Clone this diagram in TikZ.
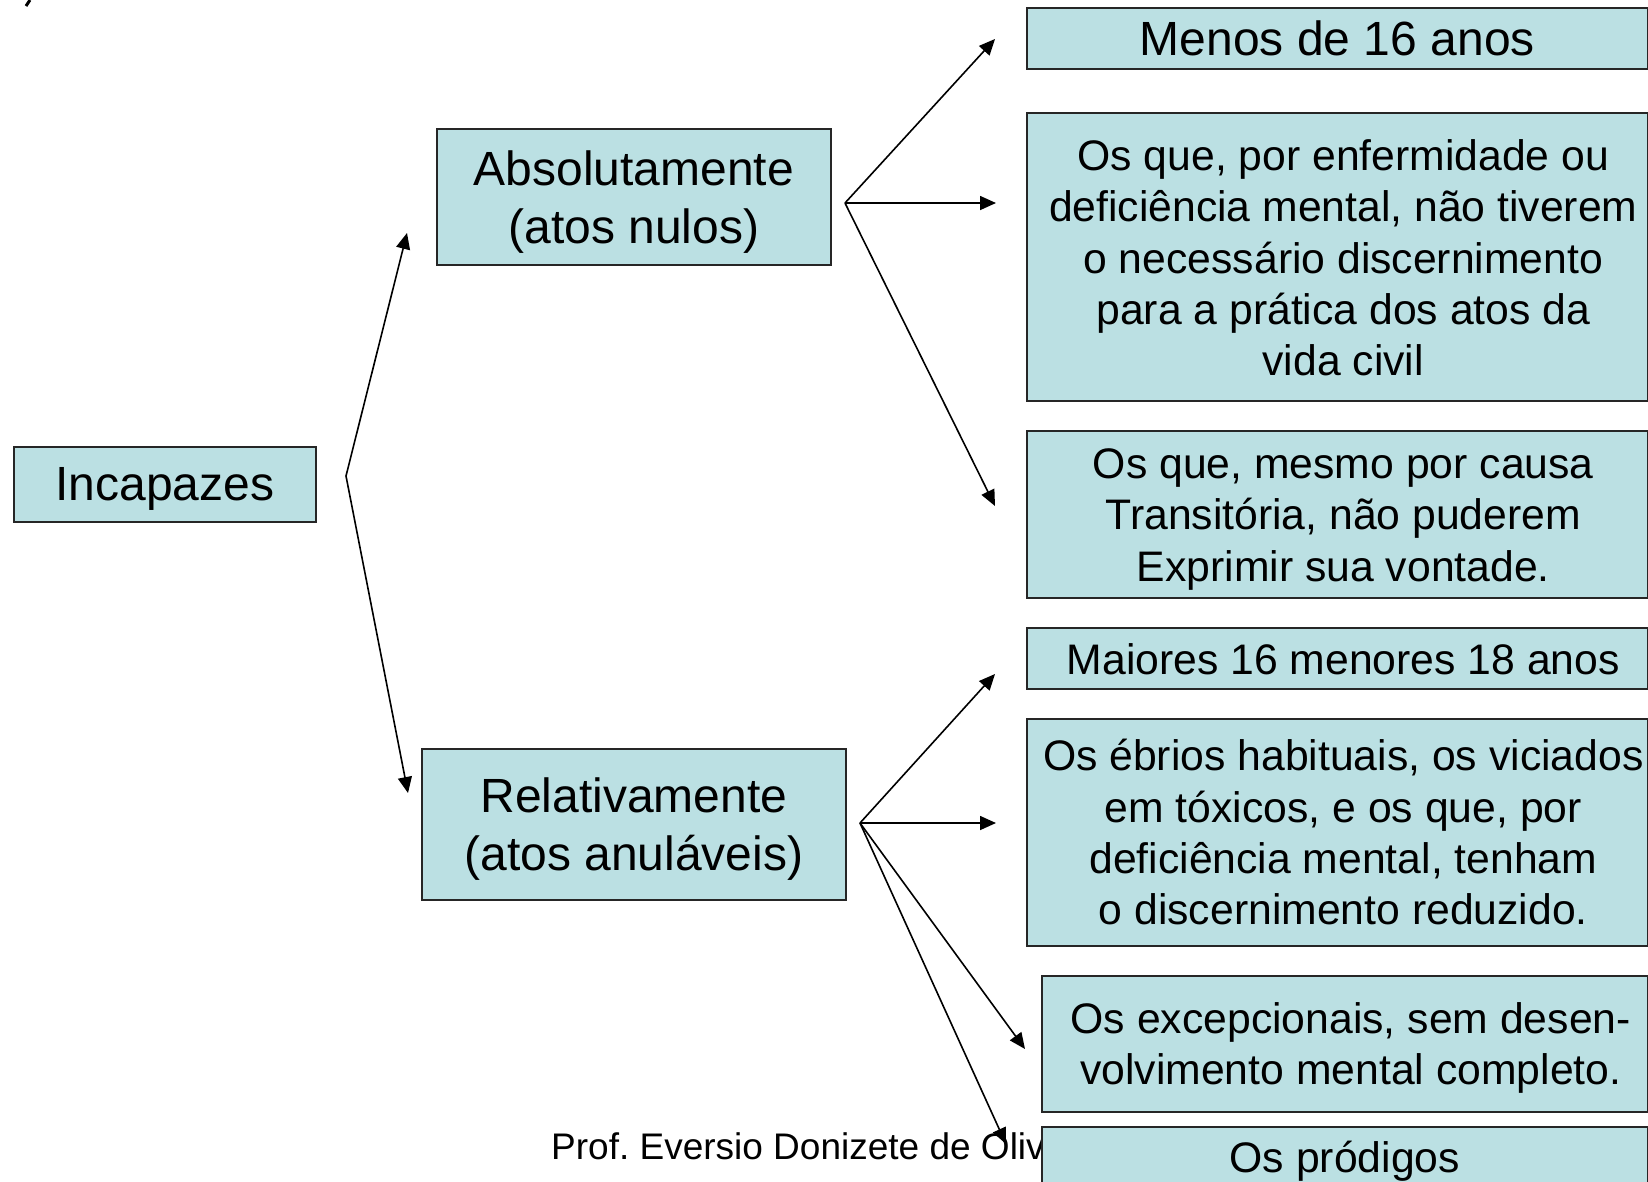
\documentclass[tikz,border=0pt]{standalone}
\usepackage{fontspec}
\setmainfont{Liberation Sans}
\usetikzlibrary{arrows.meta,calc}
\definecolor{boxfill}{RGB}{187,224,227}
\begin{document}
\begin{tikzpicture}[x=1pt,y=-1pt,
  box/.style={draw=black!85, line width=1.6pt, fill=boxfill, anchor=north west, inner sep=0pt},
  txt/.style={inner sep=0pt, align=center, font=\fontsize{42.7}{51.3}\selectfont},
  big/.style={font=\fontsize{48}{57.6}\selectfont},
  arr/.style={-{Triangle[length=16pt,width=14pt]}, line width=1.6pt}]
\path[use as bounding box, clip] (0,0) rectangle (1648,1181);
\fill[white] (0,0) rectangle (1648,1181);
% corner mark
\draw[line width=3pt] (30,0) -- (26,6);
% footer
\node[anchor=west, inner sep=0pt, font=\fontsize{37}{44}\selectfont] (foot) at (551,1146) {Prof.\ Eversio Donizete de Oliveira};
% boxes
\node[box, minimum width=302pt, minimum height=75pt] (inc) at (13,446) {};
\node[box, minimum width=394pt, minimum height=136pt] (abs) at (436,128) {};
\node[box, minimum width=424pt, minimum height=151pt] (rel) at (421,748) {};
\node[box, minimum width=621pt, minimum height=61pt] (b1) at (1026,7) {};
\node[box, minimum width=621pt, minimum height=288pt] (b2) at (1026,112) {};
\node[box, minimum width=621pt, minimum height=167pt] (b3) at (1026,430) {};
\node[box, minimum width=621pt, minimum height=61pt] (b4) at (1026,627) {};
\node[box, minimum width=621pt, minimum height=227pt] (b5) at (1026,718) {};
\node[box, minimum width=606pt, minimum height=136pt] (b6) at (1041,975) {};
\node[box, minimum width=606pt, minimum height=62pt] (b7) at (1041,1126) {};
% texts
\node[txt, big] (inct) at ($(inc.center)+(0,5)$) {Incapazes};
\node[txt, big] (abst) at ($(abs.center)+(0,5)$) {Absolutamente\\(atos nulos)};
\node[txt, big] (relt) at ($(rel.center)+(0,5)$) {Relativamente\\(atos anuláveis)};
\node[txt, big] (b1t) at ($(b1.center)+(0,0)$) {Menos de 16 anos};
\node[txt] (b2t) at ($(b2.center)+(6,1)$) {Os que, por enfermidade ou\\deficiência mental, não tiverem\\o necessário discernimento\\para a prática dos atos da\\vida civil};
\node[txt] (b3t) at ($(b3.center)+(6,5)$) {Os que, mesmo por causa\\Transitória, não puderem\\Exprimir sua vontade.};
\node[txt] (b4t) at ($(b4.center)+(6,1)$) {Maiores 16 menores 18 anos};
\node[txt] (b5t) at ($(b5.center)+(6,0)$) {Os ébrios habituais, os viciados\\em tóxicos, e os que, por\\deficiência mental, tenham\\o discernimento reduzido.};
\node[txt] (b6t) at ($(b6.center)+(6,4)$) {Os excepcionais, sem desen-\\volvimento mental completo.};
\node[txt] (b7t) at ($(b7.center)+(0,3)$) {Os pródigos};
% branch points and tips
\coordinate (vi) at (346,476);
\coordinate (ti1) at (407,233);
\coordinate (ti2) at (408,793);
\coordinate (va) at (845,203);
\coordinate (ta1) at (995,39);
\coordinate (ta2) at (996,203);
\coordinate (ta3) at (995,506);
\coordinate (vr) at (860,823);
\coordinate (tr1) at (995,674);
\coordinate (tr2) at (996,823);
\coordinate (tr3) at (1025,1049);
\coordinate (tr4) at (1006,1144);
% connectors
\draw[arr] (vi) -- (ti1);
\draw[arr] (vi) -- (ti2);
\draw[arr] (va) -- (ta1);
\draw[arr] (va) -- (ta2);
\draw[arr] (va) -- (ta3);
\draw[arr] (vr) -- (tr1);
\draw[arr] (vr) -- (tr2);
\draw[arr] (vr) -- (tr3);
\draw[arr] (vr) -- (tr4);
\end{tikzpicture}
\end{document}
